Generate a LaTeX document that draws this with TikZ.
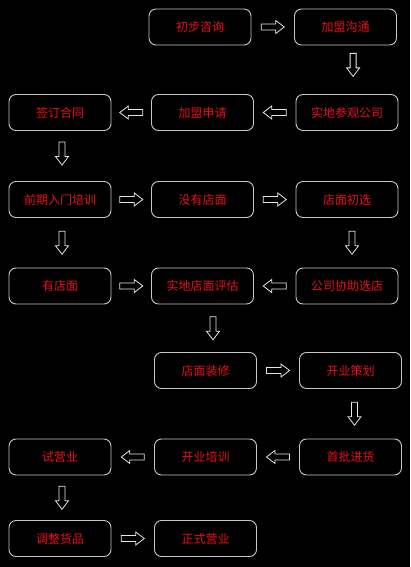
\documentclass[tikz,border=0pt]{standalone}
\usepackage{fontspec}
\newfontfamily\cjk{Noto Sans CJK SC}
\usetikzlibrary{calc}
\definecolor{boxline}{HTML}{C8C8C8}
\definecolor{arrline}{HTML}{E6E6E6}
\definecolor{txtred}{HTML}{E8101A}
\tikzset{
  stepbox/.style={draw=boxline, line width=0.9pt, rounded corners=7pt,
    minimum width=102pt, minimum height=36pt, inner sep=0pt,
    text=txtred, font=\cjk\fontsize{12}{12}\selectfont},
  blockarrow/.style={draw=arrline, line width=0.8pt, line join=miter}
}
\newcommand{\barrow}[2]{%
  \draw[blockarrow, shift={(#1)}, rotate=#2]
    (-11.5,-3) -- (3,-3) -- (3,-6.5) -- (11.5,0) -- (3,6.5) -- (3,3) -- (-11.5,3) -- cycle;}
\begin{document}
\begin{tikzpicture}[x=1pt,y=-1pt]
\fill[black] (0,0) rectangle (410,567);
\useasboundingbox (0,0) rectangle (410,567);
% row 1
\node[stepbox] (a1) at (200,27) {初步咨询};
\node[stepbox] (a2) at (345.5,27) {加盟沟通};
% row 2
\node[stepbox] (b1) at (60,112.5) {签订合同};
\node[stepbox] (b2) at (202.5,112.5) {加盟申请};
\node[stepbox] (b3) at (347,112.5) {实地参观公司};
% row 3
\node[stepbox] (c1) at (60,199.5) {前期入门培训};
\node[stepbox] (c2) at (202.5,199.5) {没有店面};
\node[stepbox] (c3) at (347,199.5) {店面初选};
% row 4
\node[stepbox] (d1) at (60,286) {有店面};
\node[stepbox] (d2) at (202.5,286) {实地店面评估};
\node[stepbox] (d3) at (347,286) {公司协助选店};
% row 5
\node[stepbox] (e2) at (205.5,370.5) {店面装修};
\node[stepbox] (e3) at (350.5,370.5) {开业策划};
% row 6
\node[stepbox] (f1) at (60,457) {试营业};
\node[stepbox] (f2) at (205.5,457) {开业培训};
\node[stepbox] (f3) at (350.5,457) {首批进货};
% row 7
\node[stepbox] (g1) at (60,538.5) {调整货品};
\node[stepbox] (g2) at (205.5,538.5) {正式营业};
% arrow anchors
\coordinate (ar1) at ($(a1.east)!0.5!(a2.west)$);
\coordinate (ar2) at ($(a2.south)!0.4!(b3.north)+(7,0)$);
\coordinate (ar3) at ($(b3.west)!0.5!(b2.east)$);
\coordinate (ar4) at ($(b2.west)!0.5!(b1.east)$);
\coordinate (ar5) at ($(b1.south)!0.45!(c1.north)+(2,0)$);
\coordinate (ar6) at ($(c1.east)!0.5!(c2.west)$);
\coordinate (ar7) at ($(c2.east)!0.5!(c3.west)$);
\coordinate (ar8) at ($(c1.south)!0.5!(d1.north)+(2,0)$);
\coordinate (ar9) at ($(c3.south)!0.5!(d3.north)+(5,0)$);
\coordinate (ar10) at ($(d1.east)!0.5!(d2.west)$);
\coordinate (ar11) at ($(d3.west)!0.5!(d2.east)$);
\coordinate (ar12) at ($(d2.south)!0.5!(e2.north)+(9,0)$);
\coordinate (ar13) at ($(e2.east)!0.5!(e3.west)$);
\coordinate (ar14) at ($(e3.south)!0.5!(f3.north)+(4,0)$);
\coordinate (ar15) at ($(f3.west)!0.5!(f2.east)$);
\coordinate (ar16) at ($(f2.west)!0.5!(f1.east)$);
\coordinate (ar17) at ($(f1.south)!0.5!(g1.north)+(2,0)$);
\coordinate (ar18) at ($(g1.east)!0.5!(g2.west)$);
% block arrows
\barrow{ar1}{0}
\barrow{ar2}{-90}
\barrow{ar3}{180}
\barrow{ar4}{180}
\barrow{ar5}{-90}
\barrow{ar6}{0}
\barrow{ar7}{0}
\barrow{ar8}{-90}
\barrow{ar9}{-90}
\barrow{ar10}{0}
\barrow{ar11}{180}
\barrow{ar12}{-90}
\barrow{ar13}{0}
\barrow{ar14}{-90}
\barrow{ar15}{180}
\barrow{ar16}{180}
\barrow{ar17}{-90}
\barrow{ar18}{0}
\end{tikzpicture}
\end{document}
